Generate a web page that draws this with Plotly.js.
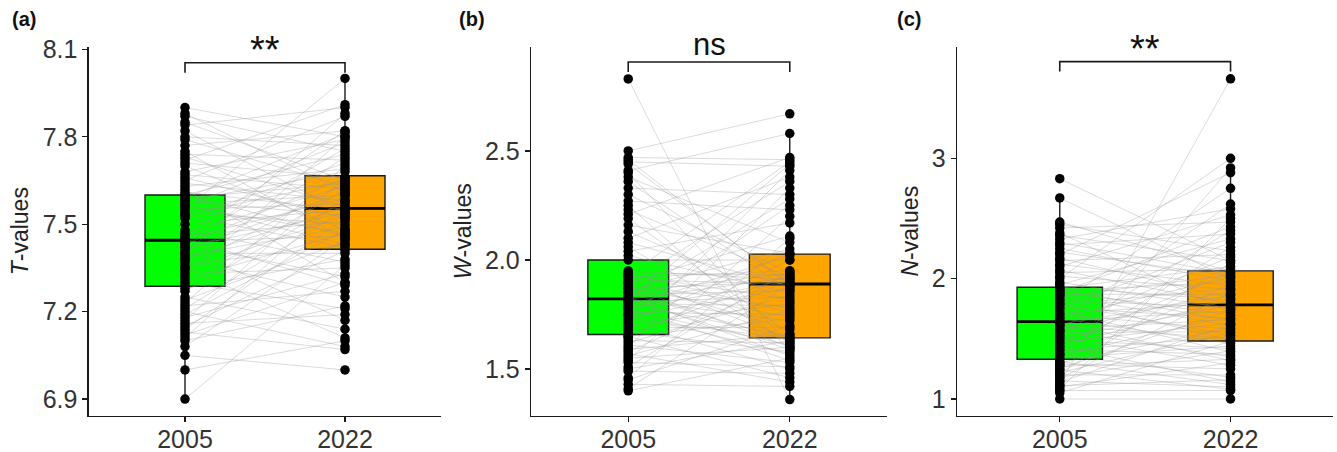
<!DOCTYPE html>
<html>
<head>
<meta charset="utf-8">
<script src="https://cdn.plot.ly/plotly-3.0.1.min.js"></script>
<style>html,body{margin:0;padding:0;background:#fff;}#chart{width:1337px;height:452px;}</style>
</head>
<body>
<div id="chart"></div>
<script>
// ---------- data ----------
const years = ['2005', '2022'];

// Panel (a) T-values, paired (index i in 2005 pairs with index i in 2022)
const T2005 = [6.90,7.00,7.05,7.08,7.10,7.11,7.12,7.13,7.14,7.15,7.16,7.17,7.18,7.19,7.20,7.21,7.22,7.23,7.24,7.25,7.27,7.28,
  7.29,7.30,7.31,7.32,7.33,7.34,7.35,7.35,7.36,7.37,7.38,7.38,7.39,7.40,7.40,7.41,7.42,7.42,7.43,7.43,7.44,7.44,
  7.45,7.45,7.46,7.46,7.47,7.48,7.50,7.52,7.53,7.53,7.54,7.55,7.55,7.56,7.56,7.57,7.57,7.58,7.58,7.59,7.59,7.60,7.60,
  7.61,7.62,7.63,7.64,7.65,7.66,7.67,7.68,7.70,7.71,7.72,7.73,7.74,7.75,7.77,7.79,7.80,7.82,7.84,7.85,7.87,7.88,7.90];
const T2022 = [7.36,7.10,7.00,7.45,7.22,7.60,7.30,7.07,7.52,7.41,7.19,7.66,7.33,7.48,7.08,7.55,7.27,7.70,7.44,7.14,7.58,7.38,
  7.62,7.21,7.47,7.80,7.35,7.53,7.11,7.64,7.43,7.73,7.25,7.56,7.49,7.88,7.40,7.61,7.17,7.54,7.66,7.32,7.76,7.46,
  7.59,7.29,7.82,7.51,7.63,7.37,7.55,7.71,7.42,7.65,7.50,8.00,7.57,7.47,7.78,7.60,7.43,7.68,7.53,7.81,7.64,7.46,7.74,
  7.55,7.30,7.69,7.58,7.87,7.52,7.62,7.79,7.48,7.66,7.91,7.56,7.72,7.45,7.82,7.63,7.77,7.54,7.90,7.65,7.75,7.61,7.80];
// box statistics: [lowerfence, q1, median, q3, upperfence]
const Tbox2005 = [6.90, 7.287, 7.445, 7.600, 7.90];
const Tbox2022 = [7.07, 7.414, 7.554, 7.666, 8.00];

// Panel (b) W-values
const W2005 = [2.83,1.40,1.41,1.43,1.45,1.46,1.49,1.50,1.51,1.53,1.54,1.55,1.56,1.57,1.58,1.59,1.60,1.61,1.62,1.63,1.64,1.65,1.65,
  1.66,1.67,1.68,1.69,1.70,1.71,1.72,1.73,1.74,1.75,1.75,1.76,1.77,1.78,1.78,1.79,1.80,1.80,1.81,1.81,1.82,1.82,1.82,
  1.83,1.83,1.84,1.85,1.85,1.86,1.87,1.87,1.88,1.89,1.89,1.90,1.90,1.91,1.92,1.92,1.93,1.93,1.94,1.94,1.95,2.00,
  2.02,2.04,2.06,2.08,2.10,2.13,2.16,2.19,2.21,2.23,2.25,2.27,2.30,2.33,2.36,2.38,2.40,2.41,2.44,2.45,2.46,2.47,2.50];
const W2022 = [1.36,1.55,1.89,1.42,1.70,2.10,1.48,1.63,1.95,1.51,2.20,1.60,1.77,1.44,1.91,1.66,2.33,1.53,1.84,1.62,2.00,1.46,1.73,
  1.93,1.58,2.41,1.69,1.80,1.50,2.03,1.64,1.87,1.57,2.25,1.75,1.61,1.90,1.54,2.02,1.79,1.65,2.44,1.83,1.59,1.92,1.72,
  2.28,1.56,1.86,1.94,1.63,2.05,1.74,1.90,1.60,2.36,1.78,1.68,2.11,1.89,1.64,1.95,1.82,2.45,1.76,1.93,1.91,2.00,
  1.85,2.17,1.62,1.88,2.38,1.81,2.03,1.66,2.47,1.92,1.59,2.23,1.94,2.30,1.86,2.08,1.61,2.58,1.89,2.43,1.88,2.46,2.67];
const Wbox2005 = [1.40, 1.658, 1.822, 2.000, 2.50];
const Wbox2022 = [1.36, 1.643, 1.890, 2.027, 2.58];

// Panel (c) N-values
const N2005 = [1.00,1.05,1.07,1.08,1.10,1.11,1.12,1.14,1.15,1.17,1.18,1.20,1.21,1.22,1.24,1.25,1.27,1.28,1.29,1.30,1.31,1.33,
  1.34,1.36,1.37,1.38,1.40,1.41,1.43,1.44,1.46,1.47,1.49,1.50,1.52,1.53,1.55,1.56,1.57,1.58,1.60,1.61,1.62,1.63,1.64,
  1.65,1.67,1.68,1.70,1.71,1.73,1.75,1.76,1.78,1.79,1.80,1.82,1.83,1.85,1.86,1.87,1.88,1.89,1.90,1.91,1.92,1.93,
  1.95,1.97,2.00,2.02,2.05,2.07,2.10,2.12,2.15,2.17,2.20,2.22,2.25,2.28,2.30,2.33,2.36,2.38,2.42,2.45,2.47,2.67,2.83];
const N2022 = [1.00,1.48,1.07,2.50,1.30,1.16,3.66,1.62,1.10,1.88,1.40,1.20,2.13,1.55,1.08,1.74,1.33,2.92,1.25,1.59,1.12,1.95,
  1.44,1.69,1.18,2.26,1.52,1.37,1.83,1.14,2.05,1.63,1.42,1.78,1.28,2.40,1.56,1.90,1.35,1.66,2.18,1.50,1.86,1.32,2.62,
  1.73,1.46,2.01,1.58,1.80,1.39,2.30,1.67,1.92,1.53,2.75,1.76,1.49,2.03,1.61,1.87,2.43,1.70,1.97,1.65,2.10,1.82,
  2.33,1.75,3.00,1.91,2.08,1.79,2.53,1.94,2.20,1.84,2.88,2.02,1.98,2.37,2.04,2.58,2.15,1.72,2.47,2.23,2.06,2.00,2.15];
const Nbox2005 = [1.00, 1.330, 1.643, 1.928, 2.67];
const Nbox2022 = [1.00, 1.482, 1.782, 2.064, 2.92];

const panelLabels = ['(a)', '(b)', '(c)'];
const yTitles = ['<i>T</i>-values', '<i>W</i>-values', '<i>N</i>-values'];
const sigLabels = ['**', 'ns', '**'];
const yTicks = [[6.9, 7.2, 7.5, 7.8, 8.1], [1.5, 2.0, 2.5], [1, 2, 3]];
const yFormats = ['.1f', '.1f', 'd'];
const yRanges = [[6.843, 8.109], [1.286, 2.978], [0.861, 3.927]];
const bracketY = [[8.020, 8.054], [2.862, 2.908], [3.72, 3.803]];

// ---------- styling ----------
const FONT = 'Liberation Sans, Arial, Helvetica, sans-serif';
const GREEN = '#00FF00', ORANGE = '#FFA500';
const xDomains = [[89/1337, 441/1337], [531.3/1337, 886.7/1337], [957.3/1337, 1333/1337]];
const yDomain = [1 - 415.7/452, 1 - 46.7/452];

const panels = [
  {a: T2005, b: T2022, sa: Tbox2005, sb: Tbox2022},
  {a: W2005, b: W2022, sa: Wbox2005, sb: Wbox2022},
  {a: N2005, b: N2022, sa: Nbox2005, sb: Nbox2022}
];

const traces = [];
const layout = {
  width: 1337, height: 452,
  margin: {l: 0, r: 0, t: 0, b: 0},
  paper_bgcolor: '#fff', plot_bgcolor: '#fff',
  showlegend: false,
  font: {family: FONT, color: '#222'},
  shapes: [], annotations: []
};

panels.forEach((p, k) => {
  const xa = k === 0 ? 'x' : 'x' + (k + 1);
  const ya = k === 0 ? 'y' : 'y' + (k + 1);
  const boxStyle = {
    type: 'box', xaxis: xa, yaxis: ya, width: 0.5, whiskerwidth: 0,
    boxpoints: false, line: {color: '#1a1a1a', width: 1.4}, hoverinfo: 'skip'
  };
  [[p.sa, 1, GREEN], [p.sb, 2, ORANGE]].forEach(([s, xp, col]) => {
    traces.push(Object.assign({}, boxStyle, {
      x: [xp], lowerfence: [s[0]], q1: [s[1]], median: [s[2]], q3: [s[3]], upperfence: [s[4]],
      fillcolor: col
    }));
  });
  // thicker median lines
  [[p.sa, 1], [p.sb, 2]].forEach(([s, xp]) => {
    traces.push({type: 'scatter', mode: 'lines', xaxis: xa, yaxis: ya,
      x: [xp - 0.25, xp + 0.25], y: [s[2], s[2]],
      line: {color: '#000', width: 2.8}, hoverinfo: 'skip'});
  });
  // paired lines
  const lx = [], ly = [];
  for (let i = 0; i < p.a.length; i++) {
    lx.push(1, 2, null); ly.push(p.a[i], p.b[i], null);
  }
  traces.push({type: 'scatter', mode: 'lines', xaxis: xa, yaxis: ya, x: lx, y: ly,
    line: {color: 'rgba(150,150,150,0.38)', width: 0.9}, hoverinfo: 'skip', connectgaps: false});
  // points
  traces.push({type: 'scatter', mode: 'markers', xaxis: xa, yaxis: ya,
    x: p.a.map(() => 1).concat(p.b.map(() => 2)), y: p.a.concat(p.b),
    marker: {color: '#000', size: 9.5, line: {width: 0}}, hoverinfo: 'skip', cliponaxis: false});

  const axX = k === 0 ? 'xaxis' : 'xaxis' + (k + 1);
  const axY = k === 0 ? 'yaxis' : 'yaxis' + (k + 1);
  layout[axX] = {
    domain: xDomains[k], anchor: ya, range: [0.4, 2.6],
    tickvals: [1, 2], ticktext: years,
    showline: true, linecolor: '#1a1a1a', linewidth: 1.6,
    ticks: 'outside', ticklen: 5, tickwidth: 1.4, tickcolor: '#1a1a1a',
    ticklabelstandoff: -4,
    showgrid: false, zeroline: false, fixedrange: true,
    tickfont: {family: FONT, size: 25, color: '#333'}
  };
  layout[axY] = {
    domain: yDomain, anchor: xa, range: yRanges[k],
    tickvals: yTicks[k], tickformat: yFormats[k],
    showline: true, linecolor: '#1a1a1a', linewidth: 1.6,
    ticks: 'outside', ticklen: 5, tickwidth: 1.4, tickcolor: '#1a1a1a',
    showgrid: false, zeroline: false, fixedrange: true,
    tickfont: {family: FONT, size: 25, color: '#333'},
    title: {text: yTitles[k], font: {family: FONT, size: 23, color: '#222'}, standoff: 7}
  };
  // significance bracket
  const [yl, yh] = bracketY[k];
  layout.shapes.push({type: 'path', xref: xa, yref: ya,
    path: `M 1 ${yl} L 1 ${yh} L 2 ${yh} L 2 ${yl}`,
    line: {color: '#1a1a1a', width: 1.6}});
  const isStar = sigLabels[k] === '**';
  layout.annotations.push({xref: xa, yref: ya, x: 1.5, y: yh, yanchor: 'bottom',
    yshift: isStar ? -10 : -2,
    text: sigLabels[k], showarrow: false,
    font: {family: FONT, size: isStar ? 38 : 31, color: '#111'}});
  // panel label
  layout.annotations.push({xref: 'paper', yref: 'paper',
    x: [10, 457, 895][k] / 1337, y: 1 - 6/452, xanchor: 'left', yanchor: 'top',
    text: '<b>' + panelLabels[k] + '</b>', showarrow: false,
    font: {family: FONT, size: 20, color: '#111'}});
});

Plotly.newPlot('chart', traces, layout, {staticPlot: true, displayModeBar: false});
</script>
</body>
</html>
